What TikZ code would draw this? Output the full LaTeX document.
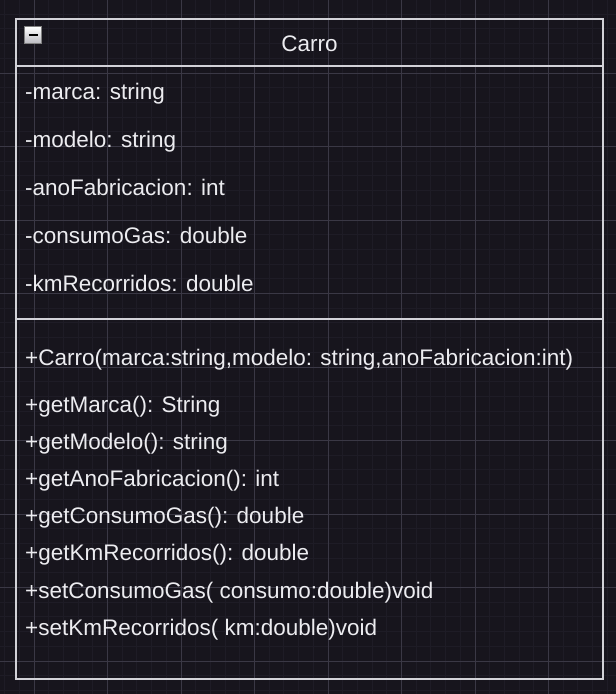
\documentclass[tikz,border=0pt]{standalone}
\usepackage{fontspec}
\setmainfont{Liberation Sans}

\definecolor{bgcol}{HTML}{17151D}
\definecolor{minorcol}{HTML}{1E1C26}
\definecolor{majorcol}{HTML}{3A3845}
\definecolor{linecol}{HTML}{D2D2D8}
\definecolor{txtcol}{HTML}{ECECF0}
\definecolor{iconcol}{HTML}{C8C8D0}

\tikzstyle{minorline}=[
    draw=minorcol,
    line width=1pt,
  ]
\tikzstyle{majorline}=[
    draw=majorcol,
    line width=1pt,
  ]
\tikzstyle{umlline}=[
    draw=linecol,
    line width=2pt,
  ]
\tikzstyle{member}=[
    anchor=base west,
    inner sep=0pt,
    text=txtcol,
    font=\fontsize{22.5}{27}\selectfont,
  ]

\begin{document}
\begin{tikzpicture}[x=1pt, y=-1pt]
      \fill[bgcol] (0,0) rectangle (616,694);
      \useasboundingbox (0,0) rectangle (616,694);
      % grid
      \foreach \i in {-2,...,39} {%
        \draw[minorline] ({34+14.7*\i},0) -- ({34+14.7*\i},694);
      }
      \foreach \j in {0,...,47} {%
        \draw[minorline] (0,{-0.5+14.7*\j}) -- (616,{-0.5+14.7*\j});
      }
      \foreach \k in {0,...,7} {%
        \draw[majorline] ({34+73.5*\k},0) -- ({34+73.5*\k},694);
      }
      \foreach \k in {0,...,9} {%
        \draw[majorline] (0,{-0.5+73.5*\k}) -- (616,{-0.5+73.5*\k});
      }
      % class box
      \coordinate (nw) at (16,19);
      \coordinate (se) at (603,679);
      \coordinate (titlesep) at (16,66);
      \coordinate (attrsep) at (16,319);
      \draw[umlline] (nw) rectangle (se);
      \draw[umlline] (titlesep) -- (titlesep -| se);
      \draw[umlline] (attrsep) -- (attrsep -| se);
      % collapse icon
      \node[draw=gray, top color=white, bottom color=iconcol!80!gray, minimum size=17pt, inner sep=0pt] (icon) at (33,35) {};
      \draw[line width=2.5pt, black] ([xshift=-4.5pt]icon.center) -- ([xshift=4.5pt]icon.center);
      \node[member, anchor=base] (title) at (309.5,51) {Carro};
      \foreach \txt [count=\n] in {{-marca: string}, {-modelo: string},
          {-anoFabricacion: int}, {-consumoGas: double}, {-kmRecorridos: double}} {%
        \node[member] (attr\n) at (25,{51+48*\n}) {\txt};
      }
      \node[member] (ctor) at (25,365) {+Carro(marca:string,modelo: string,anoFabricacion:int)};
      \foreach \txt [count=\n] in {{+getMarca(): String}, {+getModelo(): string},
          {+getAnoFabricacion(): int}, {+getConsumoGas(): double},
          {+getKmRecorridos(): double}, {+setConsumoGas( consumo:double)void},
          {+setKmRecorridos( km:double)void}} {%
        \node[member] (op\n) at (25,{375+37.17*\n}) {\txt};
      }
    \end{tikzpicture}
\end{document}
